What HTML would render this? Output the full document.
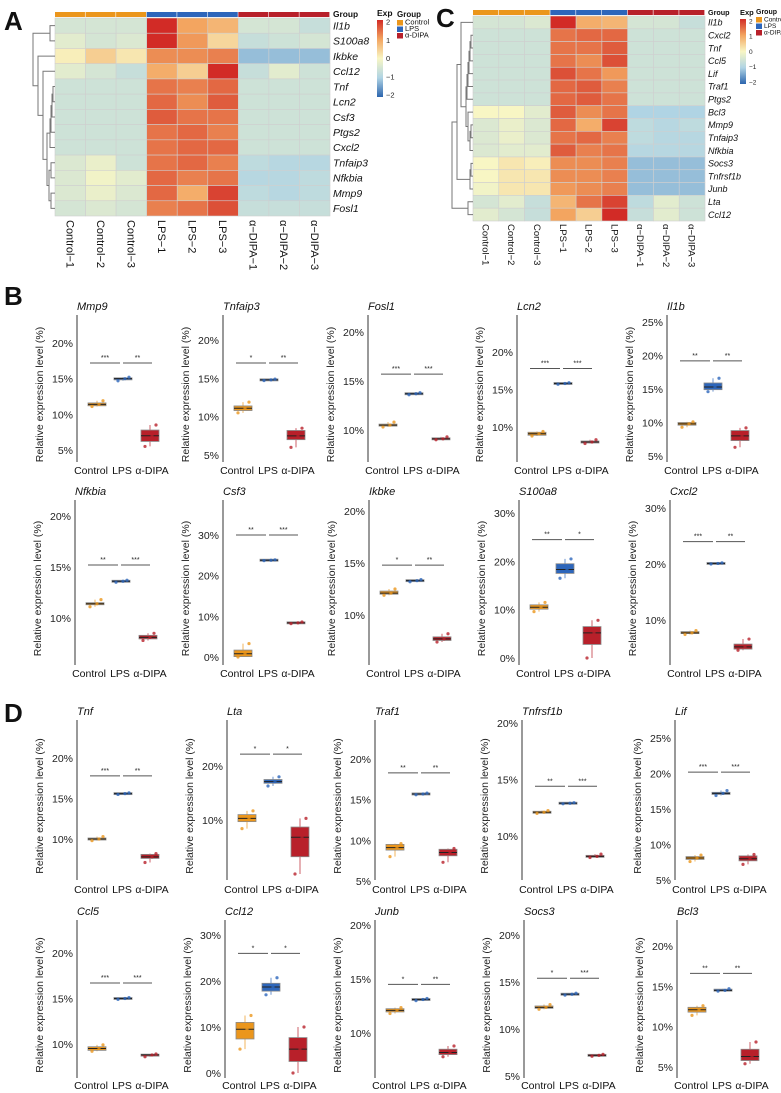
<!DOCTYPE html>
<html><head><meta charset="utf-8">
<style>
html,body{margin:0;padding:0;background:#fff;}
svg{display:block;font-family:"Liberation Sans",Arial,sans-serif;}
</style></head>
<body>
<svg id="fig" width="781" height="1093" viewBox="0 0 781 1093" xmlns="http://www.w3.org/2000/svg">
<defs>
<linearGradient id="expgrad" x1="0" y1="1" x2="0" y2="0">
<stop offset="0" stop-color="#2c65ae"/><stop offset="0.25" stop-color="#b0d4e4"/><stop offset="0.5" stop-color="#f8f6c4"/><stop offset="0.75" stop-color="#f3a560"/><stop offset="1" stop-color="#d22b26"/>
</linearGradient>
</defs>
<g id="root"></g>
</svg>
<script>
// ---------- DATA ----------
const groupNames = ["Control","LPS","α-DIPA"];
const sampleNames = ["Control−1","Control−2","Control−3","LPS−1","LPS−2","LPS−3","α−DIPA−1","α−DIPA−2","α−DIPA−3"];
const heatAGenes = ["Il1b","S100a8","Ikbke","Ccl12","Tnf","Lcn2","Csf3","Ptgs2","Cxcl2","Tnfaip3","Nfkbia","Mmp9","Fosl1"];
const heatAValues = [
[-0.5,-0.5,-0.5,2,1,0.8,-0.5,-0.5,-0.7],
[-0.3,-0.5,-0.4,2,1.1,0.4,-0.7,-0.6,-0.5],
[0.1,0.5,0.2,1.2,1.2,1.3,-1.2,-1.2,-1.2],
[-0.3,-0.5,-0.7,0.9,0.5,2,-0.7,-0.3,-0.6],
[-0.6,-0.6,-0.6,1.4,1.3,1.5,-0.6,-0.6,-0.6],
[-0.6,-0.6,-0.6,1.5,1.2,1.6,-0.6,-0.6,-0.6],
[-0.6,-0.6,-0.6,1.6,1.4,1.4,-0.6,-0.6,-0.6],
[-0.6,-0.6,-0.6,1.4,1.5,1.3,-0.6,-0.6,-0.6],
[-0.6,-0.6,-0.6,1.4,1.5,1.5,-0.6,-0.6,-0.6],
[-0.4,-0.2,-0.6,1.4,1.5,1.3,-0.8,-0.9,-0.9],
[-0.4,-0.1,-0.3,1.5,1.3,1.4,-0.9,-0.9,-0.8],
[-0.4,-0.2,-0.4,1.5,0.9,1.8,-0.8,-0.9,-0.8],
[-0.5,-0.4,-0.5,1.3,1.4,1.7,-0.7,-0.7,-0.7]];
const heatAMerges = [[0,1,5],[4,5,2],[14,6,3],[15,7,4],[16,8,5],[9,10,4],[11,12,4],[18,19,6],[17,20,8],[3,21,12],[2,22,17],[13,23,22]];
const heatCGenes = ["Il1b","Cxcl2","Tnf","Ccl5","Lif","Traf1","Ptgs2","Bcl3","Mmp9","Tnfaip3","Nfkbia","Socs3","Tnfrsf1b","Junb","Lta","Ccl12"];
const heatCValues = [
[-0.5,-0.5,-0.4,2,0.9,0.8,-0.5,-0.5,-0.7],
[-0.6,-0.6,-0.6,1.4,1.5,1.5,-0.6,-0.6,-0.6],
[-0.6,-0.6,-0.6,1.4,1.4,1.6,-0.6,-0.6,-0.6],
[-0.6,-0.6,-0.6,1.4,1.2,1.7,-0.6,-0.6,-0.6],
[-0.6,-0.6,-0.6,1.7,1.4,1.1,-0.6,-0.6,-0.6],
[-0.6,-0.6,-0.6,1.5,1.6,1.3,-0.6,-0.6,-0.6],
[-0.6,-0.6,-0.6,1.5,1.6,1.4,-0.6,-0.6,-0.6],
[0,0,-0.3,1.6,1.2,1.4,-1,-1,-1],
[-0.4,-0.2,-0.4,1.5,0.9,1.8,-0.8,-0.9,-0.8],
[-0.4,-0.2,-0.4,1.4,1.5,1.3,-0.8,-0.9,-0.9],
[-0.4,-0.3,-0.3,1.6,1.3,1.4,-0.9,-0.9,-0.9],
[0,0.2,0.1,1.2,1.2,1.3,-1.2,-1.2,-1.2],
[0,0.2,0.2,1.2,1.2,1.3,-1.2,-1.2,-1.2],
[-0.1,0.2,0.2,1.1,1.2,1.3,-1.2,-1.2,-1.2],
[-0.5,-0.3,-0.7,0.8,1.4,1.8,-0.8,-0.3,-0.6],
[-0.3,-0.5,-0.7,1,0.5,2,-0.7,-0.3,-0.6]];
const heatCMerges = [[1,2,2],[16,3,3],[17,4,4],[18,5,5],[19,6,6],[8,9,2],[21,10,3],[7,22,5],[20,23,7],[0,24,12],[11,12,2],[26,13,3],[25,27,16],[14,15,5],[28,29,21]];

// box plots: [whiskerLow, q1, median, q3, whiskerHigh] per group
const boxGenes = ["Mmp9","Tnfaip3","Fosl1","Lcn2","Il1b","Nfkbia","Csf3","Ikbke","S100a8","Cxcl2","Tnf","Lta","Traf1","Tnfrsf1b","Lif","Ccl5","Ccl12","Junb","Socs3","Bcl3"];
const boxControl = [[11.1,11.2,11.4,11.6,11.9],[10.5,10.8,11.1,11.4,11.9],[10.3,10.4,10.5,10.6,10.8],[8.8,8.9,9.1,9.3,9.4],[9.3,9.6,9.8,10,10.1],[11.1,11.3,11.4,11.5,11.8],[0,0.1,0.8,1.7,3.3],[11.9,12,12.1,12.3,12.5],[9.6,10.1,10.5,11,11.5],[7.4,7.6,7.7,7.9,8.1],[9.8,9.9,10,10.1,10.3],[8.4,9.7,10.3,11,11.7],[8,8.8,9.1,9.5,9.6],[12,12.05,12.1,12.15,12.25],[7.6,7.9,8.1,8.3,8.5],[9.2,9.3,9.5,9.7,9.9],[5.2,7.4,9.5,11,12.5],[11.8,11.95,12.1,12.25,12.35],[12.1,12.2,12.3,12.45,12.6],[11.4,11.8,12.1,12.4,12.6]];
const boxLPS = [[14.7,14.9,15,15.05,15.2],[14.7,14.75,14.8,14.85,14.9],[13.6,13.65,13.7,13.75,13.8],[15.7,15.75,15.8,15.85,15.9],[14.6,14.9,15.3,15.9,16.6],[13.5,13.55,13.6,13.65,13.7],[23.7,23.75,23.8,23.85,23.9],[13.2,13.25,13.3,13.35,13.4],[16.5,17.5,18.3,19.5,20.5],[20,20.05,20.1,20.15,20.2],[15.5,15.55,15.6,15.65,15.7],[16.3,16.8,17.1,17.5,18],[15.6,15.65,15.7,15.75,15.8],[12.85,12.88,12.9,12.92,12.95],[16.9,17.05,17.2,17.35,17.6],[14.9,14.95,15,15.05,15.1],[17,17.8,18.7,19.5,20.7],[13,13.05,13.1,13.15,13.2],[13.6,13.65,13.7,13.75,13.8],[14.4,14.45,14.5,14.6,14.7]];
const boxDIPA = [[5.5,6.2,7,7.8,8.5],[6,7,7.5,8.2,8.5],[9,9.05,9.1,9.15,9.3],[7.8,7.9,8,8.1,8.3],[6.3,7.3,8,8.8,9.2],[7.8,7.95,8.1,8.3,8.5],[8.2,8.3,8.4,8.5,8.6],[7.4,7.55,7.7,7.9,8.2],[0,2.8,5.2,6.5,7.8],[4.6,4.8,5.2,5.7,6.6],[7.1,7.6,7.8,8.1,8.2],[0,3.2,6.8,8.7,10.3],[7.3,8.1,8.5,8.9,9],[8.1,8.15,8.2,8.25,8.4],[7.2,7.7,8,8.4,8.6],[8.6,8.7,8.8,8.85,8.9],[0,2.5,5.2,7.7,10],[7.8,8,8.2,8.5,8.8],[7.1,7.15,7.2,7.25,7.3],[5.4,5.8,6.3,7.2,8.1]];
const sigLevel = [17.2,17,15.7,17.8,19.2,15.2,30,14.8,24.5,24,17.8,22.2,18.3,14.4,20.2,16.7,26,14.5,15.4,16.6];
const sigStarsCL = ["***","*","***","***","**","**","**","*","**","***","***","*","**","**","***","***","*","*","*","**"];
const sigStarsLD = ["**","**","***","***","**","***","***","**","*","**","**","*","**","***","***","***","*","**","***","**"];
const tickValues = [[5,10,15,20],[5,10,15,20],[10,15,20],[10,15,20],[5,10,15,20,25],[10,15,20],[0,10,20,30],[10,15,20],[0,10,20,30],[10,20,30],[10,15,20],[10,20],[5,10,15,20],[10,15,20],[5,10,15,20,25],[10,15,20],[0,10,20,30],[10,15,20],[5,10,15,20],[5,10,15,20]];

// ---------- LAYOUT (scale configuration, not data) ----------
const axisXs = [77,223,368,517,667, 75,223,369,519,670, 77,227,375,522,675, 77,225,375,524,677];
const calib = [[20,343,5,450],[20,340,5,455],[20,332,10,430],[20,352,10,427],[25,322,5,456],
 [20,516,10,618],[30,535,0,657],[20,511,10,615],[30,513,0,658],[30,508,10,620],
 [20,758,10,839],[20,766,10,820],[20,759,5,881],[20,723,10,836],[25,738,5,880],
 [20,953,10,1044],[30,935,0,1073],[20,925,10,1033],[20,935,5,1076],[20,946,5,1067]];
const rowTop = [315,500,720,920], rowBot = [462,665,880,1078], rowLab = [474,677,893,1089];
const gColors = ["#eb961c","#2d66bb","#b8202a"];

const NS = "http://www.w3.org/2000/svg";
const root = document.getElementById("root");
function mk(tag, attrs, parent, txt){
  const e = document.createElementNS(NS, tag);
  for (const k in attrs) e.setAttribute(k, attrs[k]);
  if (txt !== undefined) e.textContent = txt;
  (parent || root).appendChild(e);
  return e;
}
function lerp(a,b,t){return a+(b-a)*t;}
const cmStops = [[-2,[44,101,174]],[-1,[176,212,228]],[0,[248,246,196]],[1,[243,165,96]],[2,[210,43,38]]];
function cmap(v){
  v = Math.max(-2, Math.min(2, v));
  for (let i=0;i<cmStops.length-1;i++){
    const [a,ca]=cmStops[i],[b,cb]=cmStops[i+1];
    if (v<=b){const t=(v-a)/(b-a);return `rgb(${Math.round(lerp(ca[0],cb[0],t))},${Math.round(lerp(ca[1],cb[1],t))},${Math.round(lerp(ca[2],cb[2],t))})`;}
  }
  return "rgb(210,43,38)";
}

// panel letters
[["A",4,30],["B",4,305],["C",436,27],["D",4,722]].forEach(([L,x,y])=>{
  const t = mk("text",{x:x,y:y,"font-size":26,"font-weight":"bold",fill:"#111"},root,L);
  
  
});

function heatmap(id, genes, vals, merges, x0, x1, y0, y1, barY0, barY1, labFont, colFont, colLabY){
  const g = mk("g",{});
  
  
  const nC = sampleNames.length, nR = genes.length;
  const cw = (x1-x0)/nC, rh = (y1-y0)/nR;
  for (let c=0;c<nC;c++){
    const r = mk("rect",{x:x0+c*cw,y:barY0,width:cw-0.6,height:barY1-barY0,fill:gColors[Math.floor(c/3)]},g);
    
    
  }
  const gl = mk("text",{x:x1+3,y:barY1,"font-size":labFont*0.8,"font-weight":"bold",fill:"#111"},g,"Group");
  
  
  for (let r=0;r<nR;r++){
    for (let c=0;c<nC;c++){
      const cell = mk("rect",{x:x0+c*cw,y:y0+r*rh,width:cw,height:rh,fill:cmap(vals[r][c]),stroke:"#cfcfcf","stroke-width":0.6},g);
      
      
    }
    const t = mk("text",{x:x1+3,y:y0+r*rh+rh/2+labFont*0.36,"font-size":labFont,"font-style":"italic",fill:"#111"},g,genes[r]);
    
    
  }
  for (let c=0;c<nC;c++){
    const cx = x0+c*cw+cw/2 - colFont*0.36;
    const t = mk("text",{x:cx,y:colLabY,"font-size":colFont,fill:"#111",transform:`rotate(90 ${cx} ${colLabY})`},g,sampleNames[c]);
    
    
  }
  const nodes = genes.map((_,i)=>({y:y0+i*rh+rh/2,x:x0}));
  merges.forEach(([a,b,h])=>{
    const na=nodes[a], nb=nodes[b];
    const hx = x0 - h;
    const p = mk("path",{d:`M${na.x},${na.y}H${hx}V${nb.y}H${nb.x}`,fill:"none",stroke:"#777","stroke-width":1},g);
    
    
    nodes.push({x:hx,y:(na.y+nb.y)/2});
  });
  return g;
}
heatmap("a", heatAGenes, heatAValues, heatAMerges, 55, 330, 18, 216, 12, 17, 10.5, 11, 220);
heatmap("c", heatCGenes, heatCValues, heatCMerges, 473, 705, 16, 221, 10, 15, 9, 9.5, 224);

function expLegend(id, x, y0, y1, fs){
  const g = mk("g",{});
  
  
  mk("text",{x:x,y:y0-4,"font-size":fs+1,"font-weight":"bold",fill:"#111"},g,"Exp");
  mk("rect",{x:x,y:y0,width:6,height:y1-y0,fill:"url(#expgrad)"},g);
  [2,1,0,-1,-2].forEach(v=>{
    const yy = y0+2+(2-v)/4*(y1-y0-4);
    mk("text",{x:x+9,y:yy+fs*0.35,"font-size":fs,fill:"#222"},g,v<0?"−"+(-v):String(v));
  });
}
function groupLegend(id, x, y, fs, step){
  const g = mk("g",{});
  
  
  mk("text",{x:x,y:y,"font-size":fs+0.5,"font-weight":"bold",fill:"#111"},g,"Group");
  groupNames.forEach((n,i)=>{
    const s = mk("rect",{x:x,y:y+3+i*step,width:6,height:step-1,fill:gColors[i]},g);
    
    
    mk("text",{x:x+8,y:y+3+i*step+step-2,"font-size":fs,fill:"#111"},g,n);
  });
}
expLegend("a",377,20,97,7.5);
groupLegend("a",397,17,7.5,6.5);
expLegend("c",740,19,84,6.5);
groupLegend("c",756,14,6.5,6.5);

// ---------- box plots ----------
const offs = [20,46,73];
function boxplot(i){
  const row = Math.floor(i/5);
  const ax = axisXs[i];
  const [va,ya,vb,yb] = calib[i];
  const yScale = v => ya + (v-va)*(yb-ya)/(vb-va);
  const top = rowTop[row], bot = rowBot[row];
  const g = mk("g",{});
  
  
  const ttl = mk("text",{x:ax,y:top-5,"font-size":11,"font-style":"italic",fill:"#111"},g,boxGenes[i]);
  
  
  const al = mk("line",{x1:ax,y1:top,x2:ax,y2:bot,stroke:"#333","stroke-width":1},g);
  
  
  tickValues[i].forEach(v=>{
    const t = mk("text",{x:ax-4,y:yScale(v)+4,"font-size":10.5,"text-anchor":"end",fill:"#222"},g,v+"%");
    
    
  });
  const ytx = ax-34, yty = (top+bot)/2+6;
  const yt = mk("text",{x:ytx,y:yty,"font-size":10.5,"text-anchor":"middle",fill:"#222",transform:`rotate(-90 ${ytx} ${yty})`},g,"Relative expression level (%)");
  
  
  const labX = [ax+14, ax+45, ax+75];
  groupNames.forEach((n,k)=>{
    const t = mk("text",{x:labX[k],y:rowLab[row],"font-size":10.5,"text-anchor":"middle",fill:"#111"},g,n);
    
    
  });
  [boxControl[i],boxLPS[i],boxDIPA[i]].forEach((b,k)=>{
    const cx = ax+offs[k], w = 18;
    const [wl,q1,md,q3,wh] = b;
    const wk = mk("line",{x1:cx,y1:yScale(wl),x2:cx,y2:yScale(wh),stroke:gColors[k],"stroke-width":1,opacity:0.7},g);
    
    
    const hb = Math.max(2, yScale(q1)-yScale(q3));
    const bx = mk("rect",{x:cx-w/2,y:(yScale(q1)+yScale(q3))/2-hb/2,width:w,height:hb,fill:gColors[k],stroke:"#8a8a8a","stroke-width":0.8},g);
    
    
    const ml = mk("line",{x1:cx-w/2,y1:yScale(md),x2:cx+w/2,y2:yScale(md),stroke:"#222","stroke-width":1},g);
    
    
    [[wl,-5],[md,2],[wh,6]].forEach(([v,dx])=>{
      const pt = mk("circle",{cx:cx+dx,cy:yScale(v),r:1.6,fill:gColors[k],opacity:0.8},g);
      
      
    });
  });
  const sy = yScale(sigLevel[i]);
  const segs = [[ax+offs[0]-7, ax+offs[1]-3, sigStarsCL[i]],[ax+offs[1], ax+offs[2]+2, sigStarsLD[i]]];
  segs.forEach(([a,b,s],k)=>{
    const l = mk("line",{x1:a,y1:sy,x2:b,y2:sy,stroke:"#555","stroke-width":1},g);
    
    
    const t = mk("text",{x:(a+b)/2,y:sy-3,"font-size":7,"text-anchor":"middle",fill:"#222"},g,s);
    
    
  });
}
for (let i=0;i<boxGenes.length;i++) boxplot(i);
</script>
</body></html>
